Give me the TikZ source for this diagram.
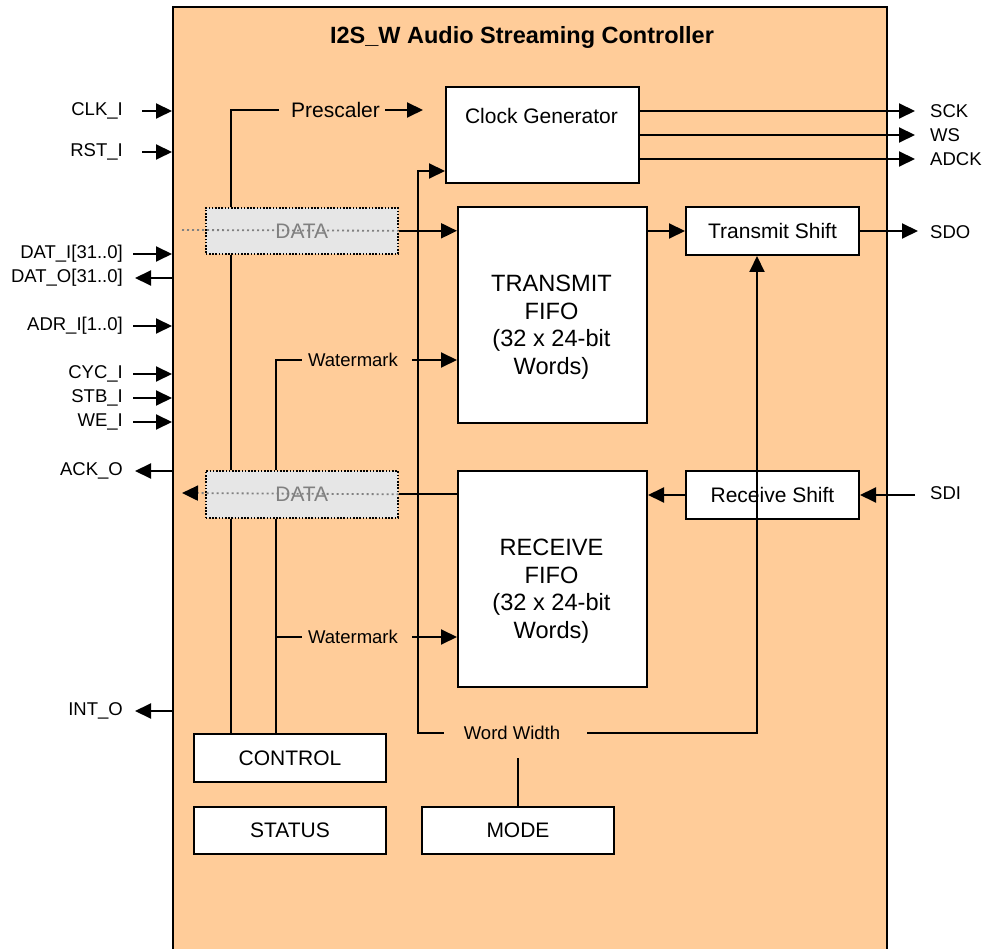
\documentclass[tikz,border=0pt]{standalone}
\usepackage{fontspec}
\setmainfont{Liberation Sans}
\usetikzlibrary{arrows.meta}
\definecolor{peach}{RGB}{255,204,153}
\definecolor{datafill}{RGB}{230,230,230}
\definecolor{datatext}{RGB}{128,128,128}

\begin{document}
\begin{tikzpicture}[x=1pt,y=-1pt,
  ln/.style={line width=2pt},
  arr/.style={line width=2pt,-{Triangle[length=16pt,width=15pt]}},
  blk/.style={draw=black,line width=2pt,fill=white,inner sep=0pt,anchor=north west,
              font=\fontsize{21}{24}\selectfont},
  fifotxt/.style={font=\fontsize{23.6}{27.5}\selectfont,align=center,inner sep=0pt},
  boxtxt/.style={font=\fontsize{21}{24}\selectfont,inner sep=0pt},
  sig/.style={font=\fontsize{18.5}{20}\selectfont,inner sep=0pt},
  databox/.style={draw=black,dash pattern=on 1.6pt off 1.6pt,line width=1.6pt,fill=datafill,
                  anchor=north west,inner sep=0pt,text=datatext,font=\fontsize{21}{24}\selectfont,
                  minimum width=192pt},
  dotline/.style={draw=datatext,dash pattern=on 2pt off 3pt,line width=1.8pt}
]
\useasboundingbox (0,0) rectangle (986,949);
\clip (0,0) rectangle (986,949);

% controller outline (runs past the lower edge)
\node[draw=black,line width=2pt,fill=peach,anchor=north west,inner sep=0pt,
      minimum width=714pt,minimum height=980pt] (main) at (172,6) {};
\node[font=\bfseries\fontsize{23.5}{26}\selectfont,inner sep=0pt] (title) at (522,37)
  {I2S\_W Audio Streaming Controller};

% bus columns
\coordinate (xa) at (231,0);
\coordinate (xb) at (276,0);
\coordinate (xc) at (418,0);
\coordinate (xd) at (757,0);

% functional blocks
\node[blk,minimum width=193pt,minimum height=96pt] (clkgen) at (445,86) {};
\node[boxtxt] (clkgentxt) at (541.5,116) {Clock Generator};
\node[blk,minimum width=189pt,minimum height=216pt] (txf) at (457,206) {};
\node[fifotxt] (txftxt) at (551.5,327) {TRANSMIT\\FIFO\\(32 x 24-bit\\Words)};
\node[blk,minimum width=189pt,minimum height=216pt] (rxf) at (457,470) {};
\node[fifotxt] (rxftxt) at (551.5,591) {RECEIVE\\FIFO\\(32 x 24-bit\\Words)};
\node[blk,minimum width=173pt,minimum height=48pt] (txs) at (685,206) {Transmit Shift};
\node[blk,minimum width=173pt,minimum height=48pt] (rxs) at (685,470) {Receive Shift};
\node[blk,minimum width=192pt,minimum height=48pt] (ctrl) at (193,733) {CONTROL};
\node[blk,minimum width=192pt,minimum height=47pt] (stat) at (193,806) {STATUS};
\node[blk,minimum width=192pt,minimum height=47pt] (mode) at (421,806) {MODE};
\node[databox,minimum height=46pt] (dtx) at (205,207) {DATA};
\node[databox,minimum height=47pt] (drx) at (205,470) {DATA};

% internal labels
\node[boxtxt] (presc) at (335.5,110) {Prescaler};
\node[sig] (wm1) at (353,360) {Watermark};
\node[sig] (wm2) at (353,637) {Watermark};
\node[sig] (ww) at (512,733) {Word Width};

% prescaler
\coordinate (prescto) at (423,110);
\draw[ln] (xa |- dtx.north) |- ([xshift=-12pt]presc.west);
\draw[arr] ([xshift=5pt]presc.east) -- (prescto);

% control bus
\draw[ln] (xa |- dtx.south) -- (xa |- drx.north);
\draw[ln] (xa |- drx.south) -- (xa |- ctrl.north);
\draw[ln] ([xshift=-6pt]wm1.west) -| (xb |- drx.north);
\draw[arr] ([xshift=14pt]wm1.east) -- (txf.west |- wm1);
\draw[ln] (xb |- drx.south) -- (xb |- ctrl.north);
\draw[ln] ([xshift=-6pt]wm2.west) -- (xb |- wm2);
\draw[arr] ([xshift=14pt]wm2.east) -- (rxf.west |- wm2);

% word width
\coordinate (cgin) at ([yshift=13pt]clkgen.south west);
\draw[arr] ([xshift=-20pt]ww.west) -| (xc |- cgin) -- (cgin);
\draw[arr] ([xshift=27pt]ww.east) -| (xd |- txs.south);
\draw[ln] (mode.north) -- ++(0,-48);

% data paths
\coordinate (dtxl) at (182,230);
\coordinate (drxl) at (182,493);
\draw[dotline] (dtxl) -- (dtx.east);
\draw[arr] (dtx.east) -- (txf.west |- dtx.east);
\draw[ln] (rxf.west |- drx.east) -- (drx.east);
\draw[dotline,-{Triangle[length=16pt,width=15pt,color=black]}] (drx.east) -- (drxl);
\draw[arr] (txf.east |- txs.west) -- (txs.west);
\draw[arr] (rxs.west) -- (rxf.east |- rxs.west);

% right-hand pins
\node[sig,anchor=west] (sck) at (930,111) {SCK};
\node[sig,anchor=west] (ws) at (930,135) {WS};
\node[sig,anchor=west] (adck) at (930,159) {ADCK};
\node[sig,anchor=west] (sdo) at (930,232) {SDO};
\node[sig,anchor=west] (sdi) at (930,493) {SDI};
\coordinate (sckend) at ([xshift=-15pt]sck.west);
\coordinate (sdoend) at ([xshift=-12pt]sdo.west);
\coordinate (sdistart) at ([xshift=-15pt]sdi.west);
\draw[arr] (clkgen.east |- sck) -- (sckend);
\draw[arr] (clkgen.east |- ws) -- (sckend |- ws);
\draw[arr] (clkgen.east |- adck) -- (sckend |- adck);
\draw[arr] (txs.east) -- (txs.east -| sdoend);
\draw[arr] (rxs.east -| sdistart) -- (rxs.east);

% left-hand pins
\node[sig,anchor=east] (clki) at (123,111) {CLK\_I};
\node[sig,anchor=east] (rsti) at (123,152) {RST\_I};
\node[sig,anchor=east] (dati) at (123,254) {DAT\_I[31..0]};
\node[sig,anchor=east] (dato) at (123,278) {DAT\_O[31..0]};
\node[sig,anchor=east] (adri) at (123,326) {ADR\_I[1..0]};
\node[sig,anchor=east] (cyci) at (123,374) {CYC\_I};
\node[sig,anchor=east] (stbi) at (123,398) {STB\_I};
\node[sig,anchor=east] (wei) at (123,422) {WE\_I};
\node[sig,anchor=east] (acko) at (123,471) {ACK\_O};
\node[sig,anchor=east] (into) at (123,711) {INT\_O};
\draw[arr] ([xshift=19pt]clki.east) -- (clki.east -| main.west);
\draw[arr] ([xshift=19pt]rsti.east) -- (rsti.east -| main.west);
\draw[arr] ([xshift=10pt]dati.east) -- (dati.east -| main.west);
\draw[arr] (dato.east -| main.west) -- ([xshift=12pt]dato.east);
\draw[arr] ([xshift=10pt]adri.east) -- (adri.east -| main.west);
\draw[arr] ([xshift=10pt]cyci.east) -- (cyci.east -| main.west);
\draw[arr] ([xshift=10pt]stbi.east) -- (stbi.east -| main.west);
\draw[arr] ([xshift=10pt]wei.east) -- (wei.east -| main.west);
\draw[arr] (acko.east -| main.west) -- ([xshift=12pt]acko.east);
\draw[arr] (into.east -| main.west) -- ([xshift=12pt]into.east);
\end{tikzpicture}
\end{document}
